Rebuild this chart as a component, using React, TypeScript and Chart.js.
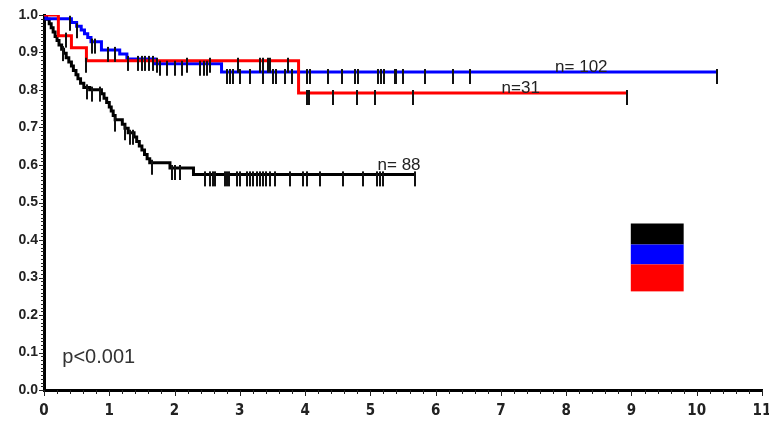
import React, { useEffect, useRef } from 'react';
import { Chart, registerables } from 'chart.js';

Chart.register(...registerables);

// ---------- data ----------
const xTickValues = [0, 1, 2, 3, 4, 5, 6, 7, 8, 9, 10, 11];
const yTickValues = [0, 0.1, 0.2, 0.3, 0.4, 0.5, 0.6, 0.7, 0.8, 0.9, 1.0];

const seriesNames = ['n= 88', 'n= 102', 'n=31'];

// black curve (n = 88)
const blackTimes = [0, 0.04, 0.08, 0.11, 0.14, 0.17, 0.2, 0.23, 0.27, 0.3, 0.34, 0.38, 0.42, 0.45, 0.49, 0.52, 0.56, 0.61, 0.7, 0.88, 0.92, 0.96, 1.0, 1.03, 1.06, 1.09, 1.2, 1.24, 1.29, 1.38, 1.42, 1.46, 1.5, 1.54, 1.58, 1.62, 1.93, 2.29, 5.69];
const blackSurv = [1.0, 0.989, 0.977, 0.966, 0.955, 0.943, 0.932, 0.92, 0.909, 0.898, 0.886, 0.875, 0.864, 0.852, 0.841, 0.83, 0.818, 0.807, 0.801, 0.79, 0.778, 0.767, 0.755, 0.744, 0.732, 0.721, 0.709, 0.698, 0.686, 0.675, 0.663, 0.651, 0.64, 0.628, 0.617, 0.606, 0.592, 0.575, 0.575];
const blackCensor = [0.29, 0.66, 0.74, 0.86, 1.09, 1.24, 1.32, 1.36, 1.65, 1.96, 2.01, 2.08, 2.47, 2.54, 2.59, 2.62, 2.77, 2.8, 2.83, 2.96, 3.0, 3.11, 3.15, 3.2, 3.26, 3.31, 3.35, 3.4, 3.46, 3.54, 3.77, 3.97, 4.03, 4.23, 4.58, 4.89, 5.1, 5.15, 5.19, 5.69];

// blue curve (n = 102)
const blueTimes = [0, 0.03, 0.42, 0.5, 0.57, 0.62, 0.67, 0.72, 0.88, 1.16, 1.27, 1.7, 2.72, 10.31];
const blueSurv = [1.0, 0.99, 0.98, 0.97, 0.96, 0.95, 0.94, 0.929, 0.907, 0.896, 0.883, 0.87, 0.848, 0.848];
const blueCensor = [0.4, 0.5, 0.73, 0.78, 0.98, 1.09, 1.29, 1.44, 1.5, 1.55, 1.61, 1.67, 1.78, 1.88, 2.0, 2.11, 2.39, 2.45, 2.5, 2.8, 2.85, 2.9, 3.0, 3.15, 3.35, 3.51, 3.56, 3.69, 3.8, 4.03, 4.08, 4.35, 4.56, 4.76, 4.81, 5.11, 5.17, 5.21, 5.37, 5.4, 5.5, 5.83, 6.26, 6.52, 10.31];

// red curve (n = 31)
const redTimes = [0, 0.22, 0.42, 0.65, 3.9, 8.93];
const redSurv = [1.0, 0.945, 0.913, 0.878, 0.792, 0.792];
const redCensor = [0.34, 0.65, 1.73, 2.19, 2.54, 2.97, 3.31, 3.36, 3.43, 3.46, 3.74, 4.03, 4.06, 4.43, 4.79, 5.07, 5.65, 8.93];

const pValueText = 'p<0.001';

// ---------- presentation ----------
const COLORS = { black: '#000000', blue: '#0000ff', red: '#ff0000' };
const labelPlacement = [
  { x: 5.11, y: 0.598 },
  { x: 7.83, y: 0.861 },
  { x: 7.01, y: 0.804 },
];
const pPlacement = { x: 0.28, y: 0.088 };
const legendBox = { x0: 8.99, x1: 9.8, bands: [0.444, 0.388, 0.335, 0.263] };

const stepAt = (times: number[], surv: number[], t: number) => {
  let v = surv[0];
  for (let i = 0; i < times.length; i++) if (times[i] <= t + 1e-9) v = surv[i];
  return v;
};

const curve = (times: number[], surv: number[]) => times.map((t, i) => ({ x: t, y: surv[i] }));
const censors = (c: number[], times: number[], surv: number[]) => c.map((t) => ({ x: t, y: stepAt(times, surv, t) }));

function makeTickImage(): HTMLCanvasElement {
  const c = document.createElement('canvas');
  c.width = 2;
  c.height = 30;
  const g = c.getContext('2d')!;
  g.fillStyle = '#111';
  g.fillRect(0, 12, 2, 15);
  return c;
}

const decorPlugin = {
  id: 'decor',
  afterDraw(chart: any) {
    const { ctx, chartArea } = chart;
    const x = chart.scales.x;
    const y = chart.scales.y;
    ctx.save();
    // minor ticks
    ctx.strokeStyle = '#222';
    ctx.lineWidth = 1;
    for (let i = 0; i <= 55; i++) {
      const px = Math.round(x.getPixelForValue(i * 0.2)) + 0.5;
      ctx.beginPath();
      ctx.moveTo(px, chartArea.bottom);
      ctx.lineTo(px, chartArea.bottom + (i % 5 === 0 ? 6 : 4));
      ctx.stroke();
    }
    for (let i = 0; i <= 100; i++) {
      const py = Math.round(y.getPixelForValue(i * 0.01)) + 0.5;
      ctx.beginPath();
      ctx.moveTo(chartArea.left, py);
      ctx.lineTo(chartArea.left - (i % 10 === 0 ? 5 : 3), py);
      ctx.stroke();
    }
    // n labels
    ctx.fillStyle = '#222';
    ctx.textBaseline = 'middle';
    ctx.textAlign = 'left';
    ctx.font = '17px "Liberation Sans", Arial, sans-serif';
    seriesNames.forEach((name, i) => {
      ctx.fillText(name, x.getPixelForValue(labelPlacement[i].x), y.getPixelForValue(labelPlacement[i].y));
    });
    ctx.font = '20px "Liberation Sans", Arial, sans-serif';
    ctx.fillStyle = '#333';
    ctx.fillText(pValueText, x.getPixelForValue(pPlacement.x), y.getPixelForValue(pPlacement.y));
    // legend colour boxes
    const cols = [COLORS.black, COLORS.blue, COLORS.red];
    const lx0 = x.getPixelForValue(legendBox.x0);
    const lx1 = x.getPixelForValue(legendBox.x1);
    cols.forEach((c, i) => {
      const top = y.getPixelForValue(legendBox.bands[i]);
      const bot = y.getPixelForValue(legendBox.bands[i + 1]);
      ctx.fillStyle = c;
      ctx.fillRect(lx0, top, lx1 - lx0, bot - top);
    });
    ctx.restore();
  },
};

export default function App() {
  const ref = useRef<HTMLCanvasElement | null>(null);
  useEffect(() => {
    if (!ref.current) return;
    const tickImg = makeTickImage();
    const censorDs = (data: any[]) => ({
      type: 'line' as const,
      data,
      showLine: false,
      pointStyle: tickImg,
      pointRadius: 6,
      pointHoverRadius: 6,
      borderColor: '#111',
      backgroundColor: '#111',
      order: 0,
    });
    const lineDs = (data: any[], color: string, order: number) => ({
      type: 'line' as const,
      data,
      stepped: 'before' as const,
      borderColor: color,
      backgroundColor: color,
      borderWidth: 3,
      pointRadius: 0,
      fill: false,
      order,
    });
    const chart = new Chart(ref.current, {
      type: 'line',
      data: {
        datasets: [
          censorDs(censors(redCensor, redTimes, redSurv)),
          censorDs(censors(blueCensor, blueTimes, blueSurv)),
          censorDs(censors(blackCensor, blackTimes, blackSurv)),
          lineDs(curve(redTimes, redSurv), COLORS.red, 1),
          lineDs(curve(blueTimes, blueSurv), COLORS.blue, 2),
          lineDs(curve(blackTimes, blackSurv), COLORS.black, 3),
        ] as any,
      },
      options: {
        animation: false,
        responsive: false,
        devicePixelRatio: 1,
        layout: { padding: { left: 8, right: 5, top: 15, bottom: 0 } },
        plugins: { legend: { display: false }, tooltip: { enabled: false }, title: { display: false } },
        scales: {
          x: {
            type: 'linear',
            min: 0,
            max: 11,
            afterFit: (s: any) => { s.height = 34; s.paddingLeft = 0; s.paddingRight = 0; },
            afterBuildTicks: (s: any) => { s.ticks = xTickValues.map((v) => ({ value: v })); },
            grid: { display: false, drawTicks: false },
            border: { display: true, color: '#000', width: 3 },
            ticks: {
              padding: 12,
              color: '#222',
              font: { family: '"Liberation Sans Narrow", "DejaVu Sans Condensed", sans-serif', weight: 'bold', size: 15 },
              callback: (v: any) => String(v),
              maxRotation: 0,
              autoSkip: false,
            },
          },
          y: {
            type: 'linear',
            min: 0,
            max: 1,
            afterFit: (s: any) => { s.width = 36; s.paddingTop = 0; s.paddingBottom = 0; },
            afterBuildTicks: (s: any) => { s.ticks = yTickValues.map((v) => ({ value: v })); },
            grid: { display: false, drawTicks: false },
            border: { display: true, color: '#000', width: 3 },
            ticks: {
              padding: 6,
              color: '#222',
              font: { family: '"Liberation Sans", Arial, sans-serif', weight: 'bold', size: 14 },
              callback: (v: any) => Number(v).toFixed(1),
              autoSkip: false,
            },
          },
        },
      } as any,
      plugins: [decorPlugin],
    });
    return () => chart.destroy();
  }, []);
  return (
    <div style={{ position: 'absolute', left: 0, top: 0, width: 769, height: 424, background: '#fff' }}>
      <canvas ref={ref} width={769} height={424} style={{ display: 'block' }} />
    </div>
  );
}
